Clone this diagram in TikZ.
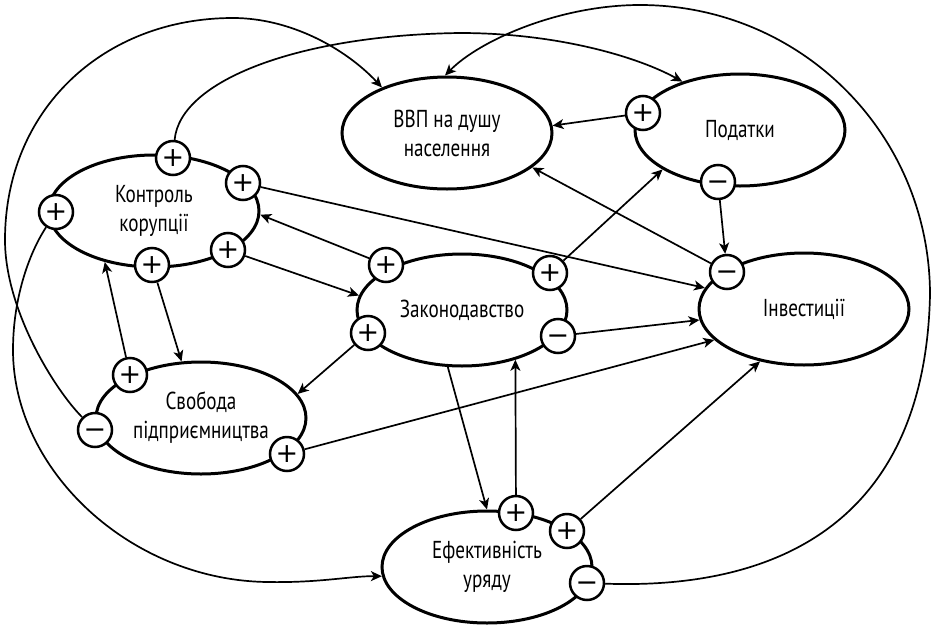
\documentclass[tikz,border=0pt]{standalone}
\usepackage{fontspec}
\setmainfont{PT Sans}[FakeStretch=0.78]
\newfontfamily\signfont{DejaVu Sans}
\usetikzlibrary{shapes.geometric,arrows.meta}
\begin{document}
\begin{tikzpicture}[x=1pt,y=-1pt,
  blob/.style={ellipse, draw, line width=3pt, minimum width=210pt, minimum height=112pt,
    inner sep=0pt, align=center, font=\fontsize{24.5}{29}\selectfont},
  sgn/.style={circle, draw, fill=white, line width=2.5pt, minimum size=34pt, inner sep=0pt,
    font=\signfont\fontsize{27}{27}\selectfont},
  link/.style={line width=1.7pt, -{Stealth[length=11pt,width=10pt,inset=3pt]}},
  plainlink/.style={line width=1.7pt}
]
\useasboundingbox (0,0) rectangle (932,627);

% main factors
\node[blob] (gdp)  at (447,133) {ВВП на душу\\населення};
\node[blob] (tax)  at (740,130) {Податки};
\node[blob] (corr) at (154,211) {Контроль\\корупції};
\node[blob] (law)  at (462,310) {Законодавство};
\node[blob] (inv)  at (804,309) {Інвестиції};
\node[blob] (free) at (201,418) {Свобода\\підприємництва};
\node[blob] (gov)  at (487,567) {Ефективність\\уряду};

% sign markers
\node[sgn] (cT)  at (173,158) {+};
\node[sgn] (cR)  at (243,183) {+};
\node[sgn] (cL)  at (56,212)  {+};
\node[sgn] (cB)  at (152,265) {+};
\node[sgn] (cBR) at (228,250) {+};
\node[sgn] (tP)  at (643,113) {+};
\node[sgn] (tM)  at (718,182) {\vphantom{+}−};
\node[sgn] (lTL) at (386,265) {+};
\node[sgn] (lTR) at (550,273) {+};
\node[sgn] (lBL) at (368,333) {+};
\node[sgn] (lBR) at (558,336) {\vphantom{+}−};
\node[sgn] (iM)  at (727,272) {\vphantom{+}−};
\node[sgn] (fT)  at (130,375) {+};
\node[sgn] (fM)  at (95,430)  {\vphantom{+}−};
\node[sgn] (fR)  at (287,454) {+};
\node[sgn] (gT)  at (516,513) {+};
\node[sgn] (gR)  at (567,531) {+};
\node[sgn] (gM)  at (587,583) {\vphantom{+}−};

% long curved connectors
\draw[link] (fM) .. controls (55,390) and (5,310) .. (5,240)
  .. controls (5,110) and (103,18) .. (233,18)
  .. controls (290,18) and (345,48) .. (gdp.145);
\draw[link] (cL) .. controls (28,255) and (13,300) .. (13,350)
  .. controls (13,470) and (130,580) .. (267,582)
  .. controls (320,583) and (350,576) .. (gov.185);
\draw[link] (cT) .. controls (180,80) and (300,35) .. (460,33)
  .. controls (560,33) and (640,58) .. (tax.140);
\draw[link] (gM) .. controls (780,590) and (925,520) .. (930,295)
  .. controls (930,134) and (801,5) .. (640,5)
  .. controls (560,5) and (480,40) .. (gdp.92);

% straight connectors
\draw[link] (tP) -- (gdp.4);
\draw[link] (tM) -- (iM);
\draw[link] (iM) -- (gdp.338);
\draw[link] (cR) -- (inv.168);
\draw[link] (lTL) -- (corr.358);
\draw[link] (cBR) -- (law.172);
\draw[link] (fT) -- (corr.226);
\draw[link] (cB) -- (free.109);
\draw[link] (lBL) -- (free.14);
\draw[link] (lTR) -- (tax.207);
\draw[link] (lBR) -- (inv.186);
\draw[link] (fR) -- (inv.199);
\draw[link] (gR) -- (inv.230);
\draw[link] (gT) -- (law.317);
\draw[link] (law.256) -- (gov.north);
\end{tikzpicture}
\end{document}
